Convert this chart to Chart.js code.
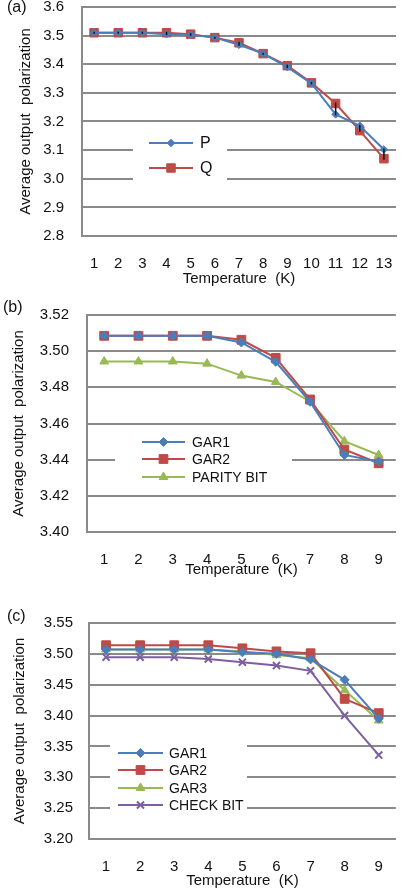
<!DOCTYPE html>
<html>
<head>
<meta charset="utf-8">
<script src="https://cdn.jsdelivr.net/npm/chart.js@4.4.1/dist/chart.umd.min.js"></script>
<style>
  body { margin: 0; background: #fff; }
  #page { position: relative; width: 403px; height: 890px; overflow: hidden; font-family: "Liberation Sans", Arial, sans-serif; }
  .panel { position: absolute; left: 0; }
  .tag { position: absolute; font-size: 16px; color: #111; }
</style>
</head>
<body>
<div id="page">
  <canvas id="chartA" class="panel" width="403" height="295" style="top:0"></canvas>
  <canvas id="chartB" class="panel" width="403" height="295" style="top:295px"></canvas>
  <canvas id="chartC" class="panel" width="403" height="300" style="top:590px"></canvas>
  <div class="tag" style="left:7px;top:-2px">(a)</div>
  <div class="tag" style="left:3px;top:298px">(b)</div>
  <div class="tag" style="left:7px;top:607px">(c)</div>
</div>
<script>
// panel (a)
const tempA = ["1","2","3","4","5","6","7","8","9","10","11","12","13"];
const pA = [3.510, 3.510, 3.510, 3.505, 3.503, 3.493, 3.468, 3.437, 3.390, 3.333, 3.225, 3.185, 3.102];
const qA = [3.510, 3.510, 3.510, 3.510, 3.505, 3.493, 3.475, 3.437, 3.395, 3.335, 3.263, 3.168, 3.070];
const yTicksA = [2.8, 2.9, 3.0, 3.1, 3.2, 3.3, 3.4, 3.5, 3.6];

// panel (b)
const tempB = ["1","2","3","4","5","6","7","8","9"];
const gar1B = [3.5085, 3.5085, 3.5085, 3.5085, 3.5048, 3.4941, 3.4720, 3.4426, 3.4390];
const gar2B = [3.5085, 3.5085, 3.5085, 3.5085, 3.5063, 3.4963, 3.4733, 3.4456, 3.4380];
const parityB = [3.4943, 3.4943, 3.4943, 3.4931, 3.4865, 3.4830, 3.4722, 3.4502, 3.4426];
const yTicksB = [3.40, 3.42, 3.44, 3.46, 3.48, 3.50, 3.52];

// panel (c)
const tempC = ["1","2","3","4","5","6","7","8","9"];
const gar1C = [3.507, 3.507, 3.507, 3.507, 3.5025, 3.500, 3.491, 3.458, 3.395];
const gar2C = [3.514, 3.514, 3.514, 3.514, 3.509, 3.504, 3.501, 3.427, 3.404];
const gar3C = [3.507, 3.507, 3.507, 3.507, 3.504, 3.498, 3.493, 3.441, 3.392];
const checkC = [3.4946, 3.4946, 3.4946, 3.4916, 3.4865, 3.481, 3.4725, 3.400, 3.336];
const yTicksC = [3.20, 3.25, 3.30, 3.35, 3.40, 3.45, 3.50, 3.55];

const BLUE = "#4a7ebb", RED = "#be4b48", GREEN = "#98b954", PURPLE = "#7d60a0";
const GRID = "#8a8a8a";
const FONT = "'Liberation Sans', Arial, sans-serif";

function series(label, data, color, style, radius) {
  return {
    label, data,
    borderColor: color,
    backgroundColor: color,
    borderWidth: 2,
    pointStyle: style,
    pointRadius: radius,
    pointHoverRadius: radius,
    pointBorderWidth: style === "crossRot" ? 2 : 1,
    tension: 0
  };
}

// legend drawn inside the plot on a white box, like the original
const insideLegend = {
  id: "insideLegend",
  afterDraw(chart, args, o) {
    const ctx = chart.ctx;
    ctx.save();
    ctx.fillStyle = "#fff";
    ctx.fillRect(o.box[0], o.box[1], o.box[2], o.box[3]);
    chart.data.datasets.forEach((ds, i) => {
      const y = o.rows[i];
      ctx.strokeStyle = ds.borderColor;
      ctx.lineWidth = 2;
      ctx.beginPath();
      ctx.moveTo(o.x1, y);
      ctx.lineTo(o.x2, y);
      ctx.stroke();
      ctx.fillStyle = ds.backgroundColor;
      ctx.strokeStyle = ds.borderColor;
      ctx.lineWidth = ds.pointBorderWidth;
      Chart.helpers.drawPoint(ctx, { pointStyle: ds.pointStyle, radius: ds.pointRadius, rotation: 0, borderWidth: ds.pointBorderWidth }, (o.x1 + o.x2) / 2, y);
      ctx.fillStyle = "#111";
      ctx.font = o.size + "px " + FONT;
      ctx.textBaseline = "middle";
      ctx.textAlign = "left";
      ctx.fillText(ds.label, o.tx, y + 1);
    });
    ctx.restore();
  }
};

// small black bars between P and Q in panel (a)
const spreadBars = {
  id: "spreadBars",
  afterDatasetsDraw(chart, args, o) {
    if (!o.on) return;
    const ctx = chart.ctx, x = chart.scales.x, y = chart.scales.y;
    const a = chart.data.datasets[0].data, b = chart.data.datasets[1].data;
    ctx.save();
    ctx.strokeStyle = "#111";
    ctx.lineWidth = 1.5;
    a.forEach((v, i) => {
      const px = x.getPixelForValue(i);
      const y1 = y.getPixelForValue(Math.max(v, b[i])) - 1;
      const y2 = y.getPixelForValue(Math.min(v, b[i])) + 1;
      ctx.beginPath();
      ctx.moveTo(px, y1);
      ctx.lineTo(px, y2);
      ctx.stroke();
    });
    ctx.restore();
  }
};

function makeChart(id, labels, datasets, c) {
  return new Chart(document.getElementById(id), {
    type: "line",
    data: { labels, datasets },
    plugins: [spreadBars, insideLegend],
    options: {
      responsive: false,
      animation: false,
      events: [],
      layout: { padding: { top: c.top, right: c.right, left: 0, bottom: 0 } },
      plugins: {
        legend: { display: false },
        tooltip: { enabled: false },
        insideLegend: c.legend,
        spreadBars: { on: !!c.bars }
      },
      scales: {
        x: {
          offset: true,
          grid: { display: false },
          border: { display: true, color: GRID, width: 2 },
          ticks: { color: "#111", padding: c.xPad, font: { family: FONT, size: 15 }, maxRotation: 0, autoSkip: false },
          title: { display: true, text: "Temperature  (K)", color: "#111", font: { family: FONT, size: 15 }, padding: { top: 0, bottom: c.xTitlePad } },
          afterFit(s) { s.height = c.xHeight; s.paddingLeft = 0; s.paddingRight = 0; }
        },
        y: {
          min: c.yTicks[0],
          max: c.yTicks[c.yTicks.length - 1],
          afterBuildTicks(s) { s.ticks = c.yTicks.map(v => ({ value: v })); },
          grid: { color: GRID, lineWidth: 2, drawTicks: false },
          border: { display: true, color: GRID, width: 2 },
          ticks: { color: "#111", padding: c.yPad, font: { family: FONT, size: 15 }, callback: v => Number(v).toFixed(c.dec) },
          title: { display: true, text: "Average output  polarization", color: "#111", font: { family: FONT, size: 15 }, padding: { top: c.yTitlePad, bottom: 0 } },
          afterFit(s) { s.width = c.left; s.paddingTop = 0; s.paddingBottom = 0; }
        }
      }
    }
  });
}

makeChart("chartA", tempA, [
  series("P", pA, BLUE, "rectRot", 3.8),
  series("Q", qA, RED, "rect", 6)
], {
  top: 6.5, right: 4, left: 82, xHeight: 59, xPad: 11, xTitlePad: 7, yPad: 18, yTitlePad: 17, dec: 1, yTicks: yTicksA, bars: true,
  legend: { box: [133, 128, 94, 57], x1: 149, x2: 193, tx: 200, rows: [143, 168], size: 16 }
});

makeChart("chartB", tempB, [
  series("GAR1", gar1B, BLUE, "rectRot", 4.5),
  series("GAR2", gar2B, RED, "rect", 6.2),
  series("PARITY BIT", parityB, GREEN, "triangle", 5)
], {
  top: 20, right: 3, left: 87, xHeight: 58, xPad: 11, xTitlePad: 11.5, yPad: 18, yTitlePad: 9.5, dec: 2, yTicks: yTicksB,
  legend: { box: [115, 137, 177, 56], x1: 142, x2: 185, tx: 192, rows: [147, 164, 182], size: 14 }
});

makeChart("chartC", tempC, [
  series("GAR1", gar1C, BLUE, "rectRot", 4.5),
  series("GAR2", gar2C, RED, "rect", 6.2),
  series("GAR3", gar3C, GREEN, "triangle", 5),
  series("CHECK BIT", checkC, PURPLE, "crossRot", 5)
], {
  top: 33, right: 0, left: 89, xHeight: 51, xPad: 11, xTitlePad: 0, yPad: 16, yTitlePad: 10.5, dec: 2, yTicks: yTicksC,
  legend: { box: [110, 153, 137, 73], x1: 118, x2: 163, tx: 169, rows: [163, 180, 198, 215], size: 14 }
});
</script>
</body>
</html>
